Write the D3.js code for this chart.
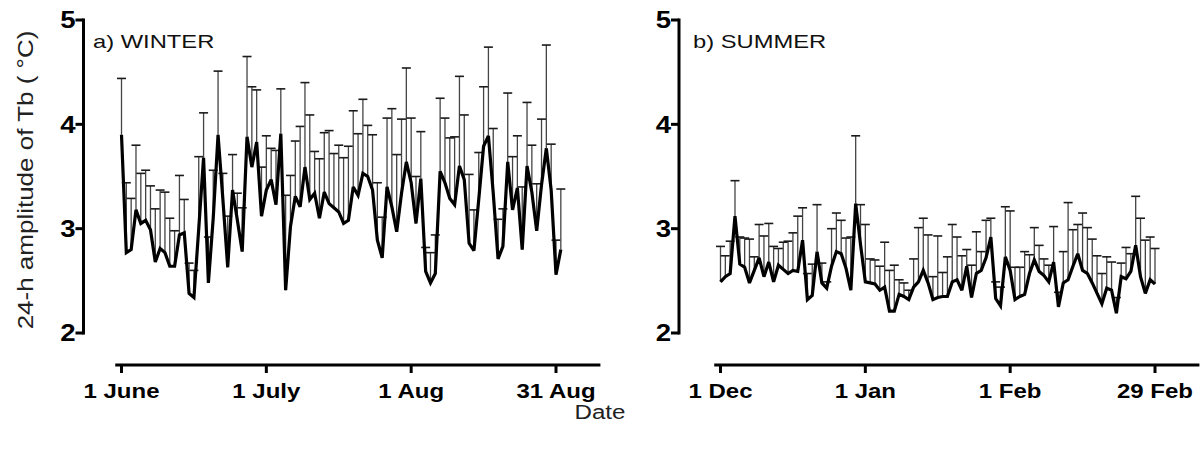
<!DOCTYPE html>
<html>
<head>
<meta charset="utf-8">
<script src="https://cdn.jsdelivr.net/npm/d3@7"></script>
<style>
  body { margin: 0; background: #fff; }
  text { font-family: Arial, "Liberation Sans", sans-serif; }
</style>
</head>
<body>
<svg id="chart" width="1202" height="453"></svg>
<script>
// winter: 1 June - 31 Aug, daily mean and SD of 24-h Tb amplitude
var winterMean = [3.90,2.77,2.80,3.18,3.05,3.08,2.99,2.68,2.81,2.77,2.64,2.64,2.94,2.96,2.38,2.34,
  3.00,3.68,2.48,3.10,3.90,3.28,2.63,3.37,3.08,2.78,3.88,3.59,3.83,3.12,3.37,3.47,3.23,3.91,2.41,3.02,
  3.31,3.21,3.59,3.28,3.34,3.10,3.35,3.24,3.20,3.16,3.05,3.08,3.40,3.32,3.53,3.50,3.37,2.89,2.72,3.40,
  3.21,2.97,3.34,3.64,3.44,3.05,3.48,2.59,2.48,2.57,3.55,3.44,3.29,3.23,3.60,3.47,2.86,2.79,3.28,3.79,
  3.89,3.34,2.71,2.83,3.64,3.18,3.39,2.80,3.60,3.35,2.98,3.42,3.77,3.37,2.56,2.80];
var winterSD = [.54,.67,.49,.62,.48,.48,.42,.51,.56,.58,.46,.34,.57,.32,.29,.26,
  .69,.43,.44,.46,.61,.25,.49,.34,.26,.42,.77,.77,.50,.47,.52,.30,.52,.43,.91,.49,
  .53,.77,.81,.81,.40,.57,.57,.70,.52,.64,.63,.71,.73,.59,.71,.49,.53,.55,.39,.66,
  .94,.74,.71,.90,.62,.45,.45,.23,.29,.37,.70,.62,.58,.65,.86,.62,.66,.39,.45,.57,
  .85,.62,.38,.36,.66,.51,.50,.60,.61,.45,.45,.63,.99,.44,.33,.58];

// summer: 1 Dec - 29 Feb
var summerMean = [2.49,2.54,2.57,3.12,2.66,2.63,2.48,2.60,2.72,2.54,2.68,2.49,2.65,2.61,2.57,2.60,
  2.59,2.89,2.32,2.36,2.78,2.48,2.43,2.64,2.78,2.76,2.62,2.41,3.24,2.85,2.49,2.48,2.47,2.41,2.44,2.21,
  2.21,2.37,2.35,2.32,2.44,2.49,2.60,2.48,2.32,2.34,2.35,2.35,2.49,2.51,2.41,2.64,2.34,2.57,2.60,2.72,
  2.92,2.33,2.26,2.73,2.60,2.32,2.35,2.37,2.57,2.70,2.59,2.55,2.49,2.68,2.25,2.48,2.51,2.64,2.76,2.60,
  2.57,2.48,2.38,2.28,2.43,2.41,2.19,2.54,2.52,2.59,2.84,2.54,2.38,2.51,2.47];
var summerSD = [.34,.20,.31,.34,.26,.28,.42,.13,.32,.39,.37,.34,.16,.26,.31,.36,
  .53,.31,.25,.30,.45,.19,.06,.36,.37,.32,.29,.51,.65,.38,.55,.23,.23,.23,.43,.39,
  .44,.14,.13,.09,.27,.52,.50,.46,.22,.59,.23,.38,.55,.41,.33,.16,.31,.40,.18,.36,
  .18,.16,.18,.48,.57,.31,.28,.41,.18,.31,.25,.16,.16,.34,.14,.30,.74,.35,.28,.55,
  .44,.42,.36,.29,.30,.27,.15,.13,.30,.17,.47,.56,.51,.41,.34];

var yTicks = [2, 3, 4, 5];
var tickDays = [0, 30, 60, 90];
var winterTickLabels = ["1 June", "1 July", "1 Aug", "31 Aug"];
var summerTickLabels = ["1 Dec", "1 Jan", "1 Feb", "29 Feb"];

var svg = d3.select("#chart");

var y = d3.scaleLinear().domain([2, 5]).range([333, 20]);

// text of the original is a bit stretched sideways, so scale x
function hText(g, x, yy, str, opts) {
  var sx = opts.sx || 1.25;
  var t = g.append("g").attr("transform", "translate(" + x + "," + yy + ") scale(" + sx + ",1)")
    .append("text")
    .attr("text-anchor", opts.anchor || "start")
    .attr("font-size", opts.size || 19)
    .attr("font-weight", opts.weight || "normal")
    .attr("fill", opts.fill || "#111")
    .text(str);
  if (opts.dy) t.attr("dy", opts.dy);
  return t;
}

function drawPanel(o) {
  var x = d3.scaleLinear().domain([0, 90]).range([o.x0, o.x0 + 434.5]);
  var g = svg.append("g");

  // y axis
  g.append("line").attr("x1", o.yAxisX).attr("x2", o.yAxisX)
    .attr("y1", y(5) - 1.5).attr("y2", y(2) + 1.5)
    .attr("stroke", "#000").attr("stroke-width", 3);
  yTicks.forEach(function(t) {
    g.append("line").attr("x1", o.yAxisX - 8).attr("x2", o.yAxisX)
      .attr("y1", y(t)).attr("y2", y(t))
      .attr("stroke", "#000").attr("stroke-width", 3);
    hText(g, o.yAxisX - 8, y(t), t, {anchor: "end", weight: "bold", size: 23, sx: 1.2, dy: "0.36em", fill: "#000"});
  });

  // x axis
  var axY = 365;
  g.append("line").attr("x1", x(-1.3)).attr("x2", x(99.2))
    .attr("y1", axY).attr("y2", axY)
    .attr("stroke", "#000").attr("stroke-width", 3);
  tickDays.forEach(function(d, i) {
    g.append("line").attr("x1", x(d)).attr("x2", x(d))
      .attr("y1", axY).attr("y2", axY + 8)
      .attr("stroke", "#000").attr("stroke-width", 3);
    hText(g, x(d), 398, o.labels[i], {anchor: "middle", weight: "bold", size: 20, sx: 1.2, fill: "#000"});
  });

  // error bars (upper SD only)
  var bars = g.append("g");
  o.mean.forEach(function(m, i) {
    var top = m + o.sd[i];
    bars.append("line").attr("x1", x(i)).attr("x2", x(i))
      .attr("y1", y(m)).attr("y2", y(top))
      .attr("stroke", "#444").attr("stroke-width", 1.3);
    bars.append("line").attr("x1", x(i) - 4.5).attr("x2", x(i) + 4.5)
      .attr("y1", y(top)).attr("y2", y(top))
      .attr("stroke", "#1a1a1a").attr("stroke-width", 1.6);
  });

  // mean line
  var line = d3.line().x(function(d, i) { return x(i); }).y(function(d) { return y(d); });
  g.append("path").datum(o.mean).attr("d", line)
    .attr("fill", "none").attr("stroke", "#000").attr("stroke-width", 3.2)
    .attr("stroke-linejoin", "miter").attr("stroke-miterlimit", 3);

  hText(g, o.titleX, 48, o.title, {size: 19, fill: "#111"});
}

drawPanel({x0: 121.5, yAxisX: 83.5, mean: winterMean, sd: winterSD,
  labels: winterTickLabels, title: "a) WINTER", titleX: 93});
drawPanel({x0: 720.5, yAxisX: 679, mean: summerMean, sd: summerSD,
  labels: summerTickLabels, title: "b) SUMMER", titleX: 693});

// axis titles
svg.append("text")
  .attr("transform", "translate(33,180) rotate(-90) scale(1,0.85)")
  .attr("text-anchor", "middle")
  .attr("font-size", 26)
  .attr("fill", "#222")
  .text("24-h amplitude of Tb ( \u00B0C)");

hText(svg, 600, 419, "Date", {anchor: "middle", size: 21, sx: 1.15, fill: "#222"});
</script>
</body>
</html>
